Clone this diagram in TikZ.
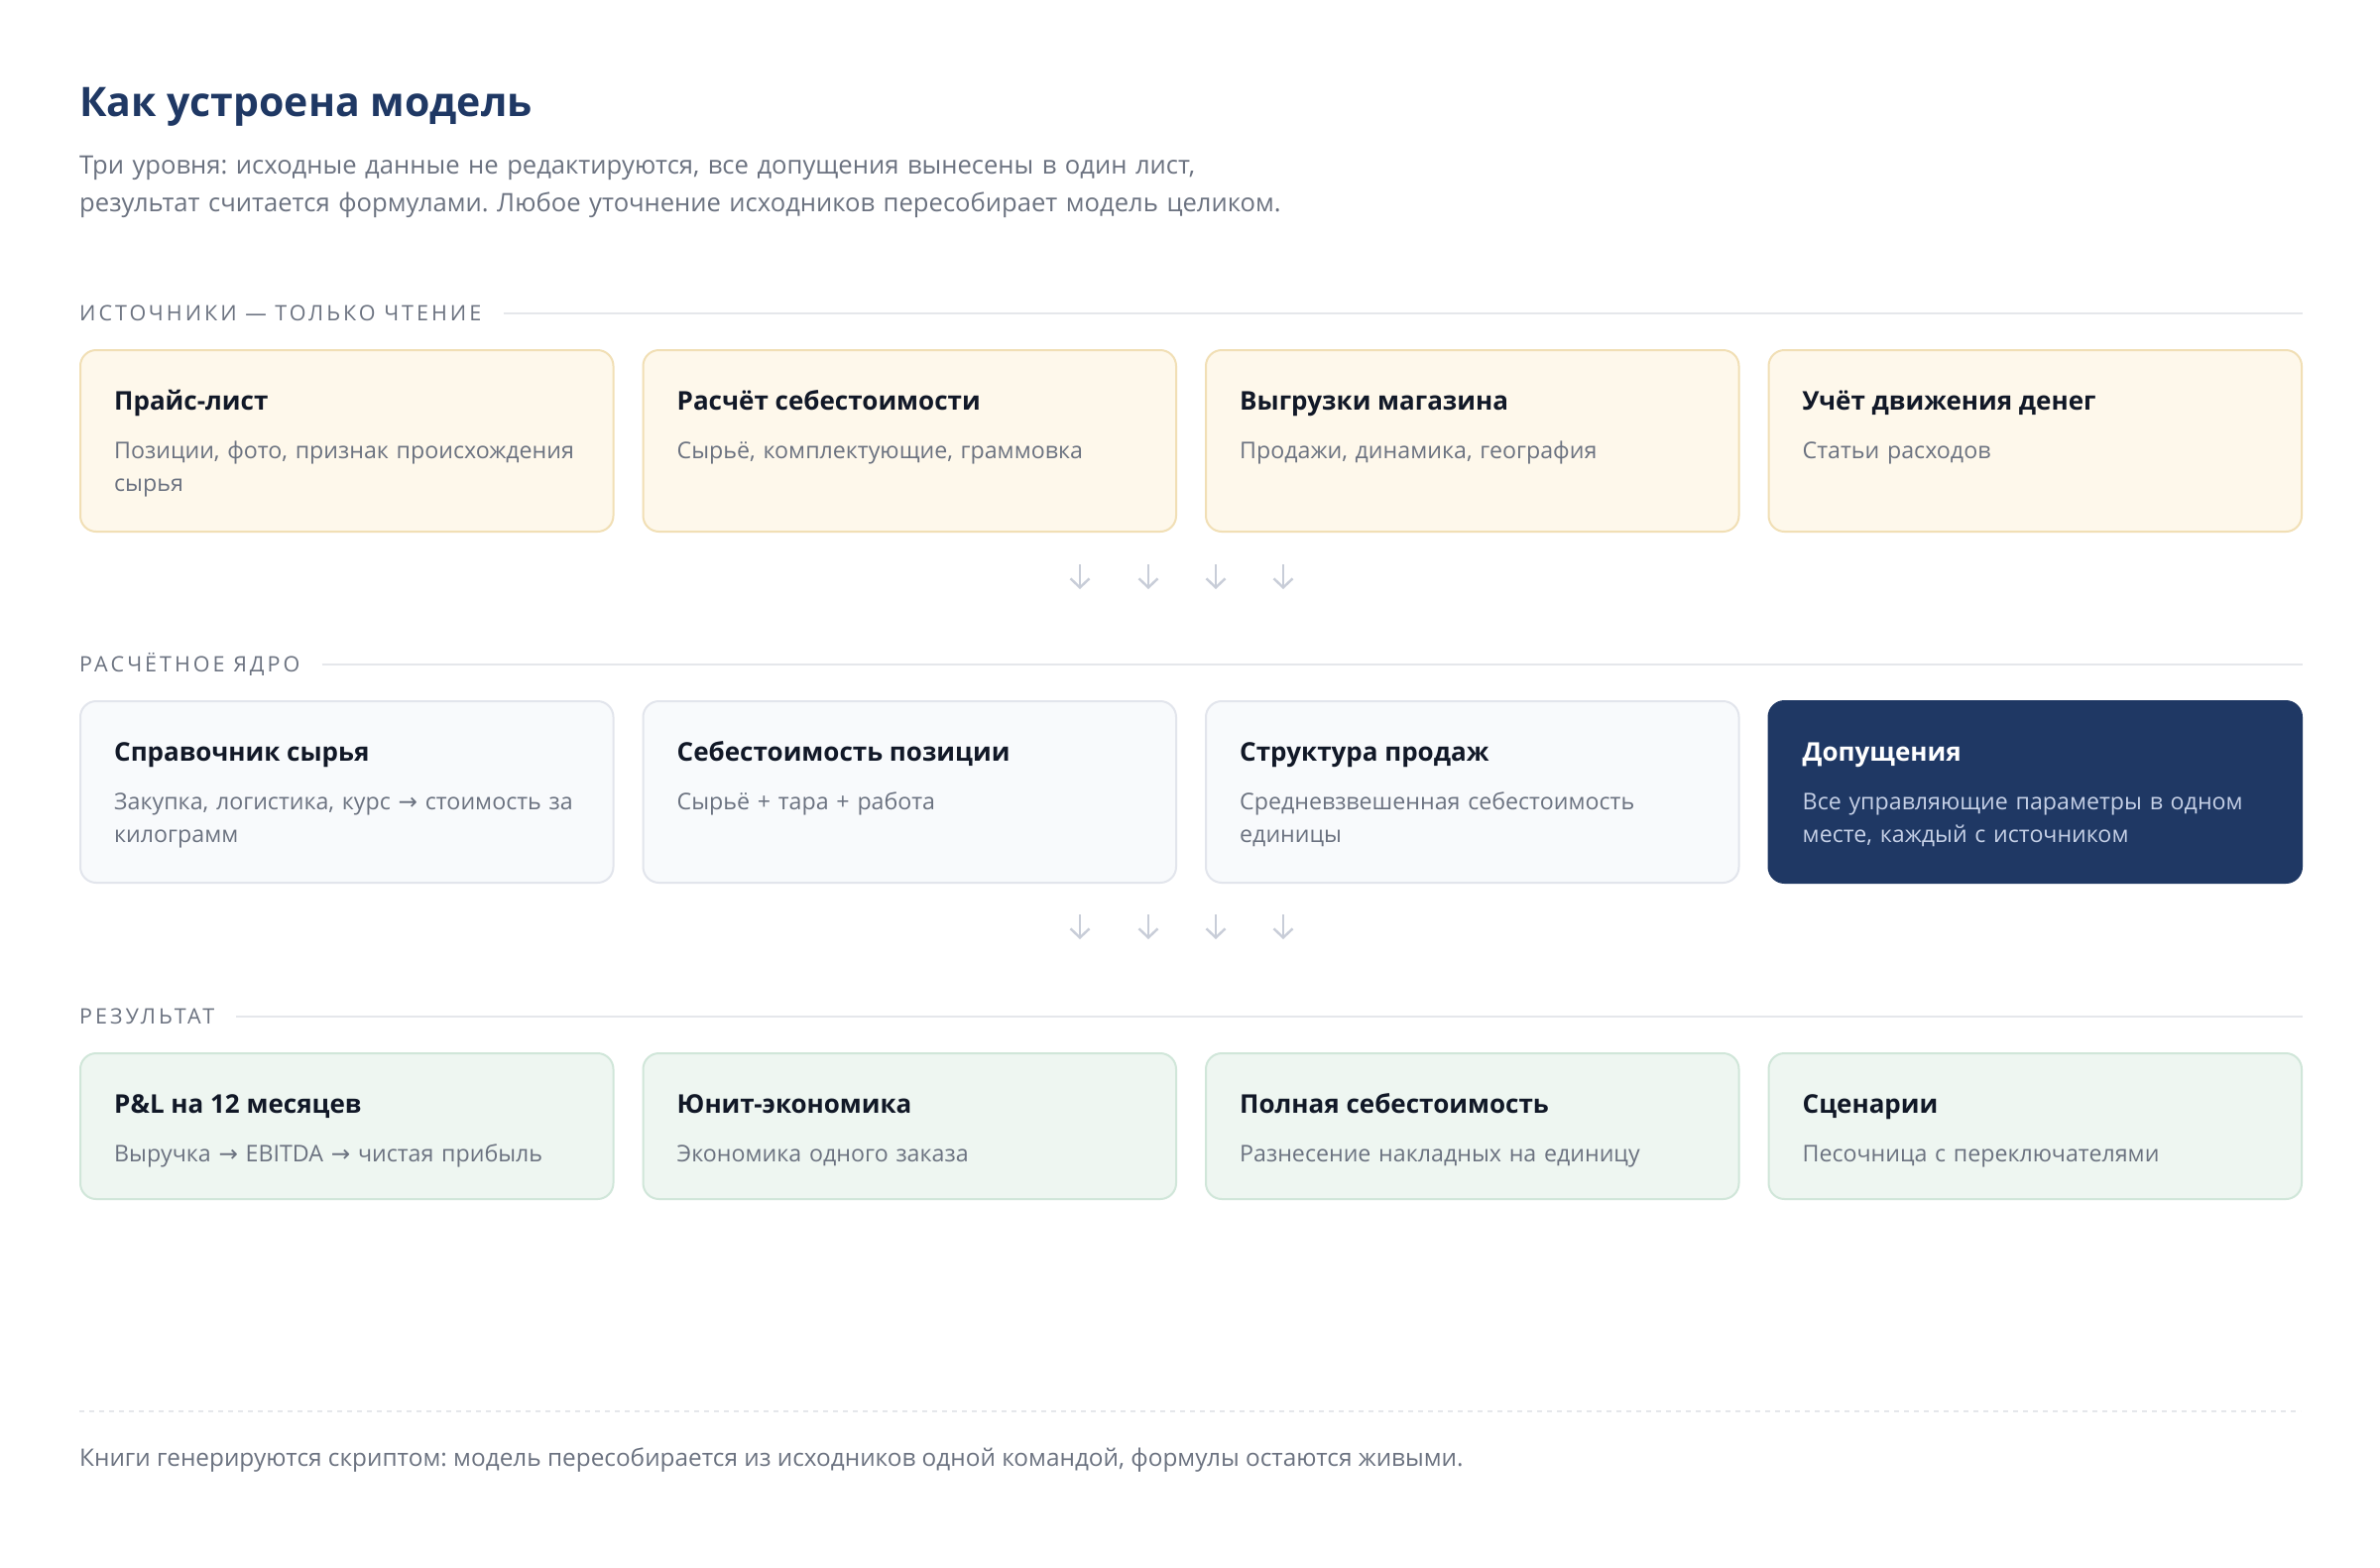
\documentclass[tikz,border=0pt]{standalone}
\usepackage{fontspec}
\setmainfont{Open Sans}
\newfontfamily\capsfont[LetterSpace=14]{Open Sans}
\newfontfamily\symfont{DejaVu Sans}
\newcommand\sarr{{\symfont →}}
\usepackage{tikz}
\usetikzlibrary{arrows.meta,positioning}
\definecolor{navy}{HTML}{1F3864}
\definecolor{ink}{HTML}{111827}
\definecolor{muted}{HTML}{6B7280}
\definecolor{rulegray}{HTML}{E5E7EB}
\definecolor{srcfill}{HTML}{FEF8EB}
\definecolor{srcline}{HTML}{F1DFB5}
\definecolor{corefill}{HTML}{F8FAFC}
\definecolor{coreline}{HTML}{E2E5EC}
\definecolor{resfill}{HTML}{EEF6F1}
\definecolor{resline}{HTML}{D0E6D9}
\definecolor{arrgray}{HTML}{C8CDD8}
\definecolor{darkdsc}{HTML}{C5D0E6}
\frenchspacing
\begin{document}
\begin{tikzpicture}[
	x=1pt,y=-1pt,
	card/.style={anchor=north west,minimum width=537.5pt,minimum height=183pt,rounded corners=16pt,line width=2pt,inner sep=0pt},
	src/.style={card,draw=srcline,fill=srcfill},
	core/.style={card,draw=coreline,fill=corefill},
	dark/.style={card,draw=navy,fill=navy},
	res/.style={card,draw=resline,fill=resfill,minimum height=147pt},
	ttl/.style={anchor=base west,inner sep=0pt,font=\bfseries\fontsize{26}{30}\selectfont,text=ink},
	dsc/.style={anchor=base west,inner sep=0pt,text width=500pt,align=left,font=\fontsize{23.2}{33}\selectfont,text=muted},
	sec/.style={anchor=west,inner sep=0pt,font=\capsfont\fontsize{21.5}{24}\selectfont,text=muted},
	rule/.style={draw=rulegray,line width=2pt},
	arr/.style={draw=arrgray,line width=2.4pt,-{Straight Barb[length=9pt,width=19pt]}},
	]
\useasboundingbox [fill=white] (0,0) rectangle (2400,1580);
\node [anchor=base west,inner sep=0pt,font=\bfseries\fontsize{41}{50}\selectfont,text=navy] (head) at (80,117) {Как устроена модель};
\node [anchor=base west,inner sep=0pt,text width=1600pt,align=left,font=\fontsize{25.6}{38}\selectfont,text=muted] (lead) at (80,175)
	{Три уровня: исходные данные не редактируются, все допущения вынесены в один лист,\\
	результат считается формулами. Любое уточнение исходников пересобирает модель целиком.};

\node [sec] (l1) at (80,316) {ИСТОЧНИКИ — ТОЛЬКО ЧТЕНИЕ};
\node [src] (s1) at (80,352) {};
\node [src] (s2) at (647.5,352) {};
\node [src] (s3) at (1215,352) {};
\node [src] (s4) at (1782.5,352) {};
\draw [rule] ([xshift=22pt]l1.east) -- (l1.east -| s4.east);
\node [ttl] (s1t) at ([xshift=35pt,yshift=-61pt]s1.north west) {Прайс-лист};
\node [dsc] (s1d) at ([xshift=35pt,yshift=-110pt]s1.north west) {Позиции, фото, признак происхождения\\сырья};
\node [ttl] (s2t) at ([xshift=35pt,yshift=-61pt]s2.north west) {Расчёт себестоимости};
\node [dsc] (s2d) at ([xshift=35pt,yshift=-110pt]s2.north west) {Сырьё, комплектующие, граммовка};
\node [ttl] (s3t) at ([xshift=35pt,yshift=-61pt]s3.north west) {Выгрузки магазина};
\node [dsc] (s3d) at ([xshift=35pt,yshift=-110pt]s3.north west) {Продажи, динамика, география};
\node [ttl] (s4t) at ([xshift=35pt,yshift=-61pt]s4.north west) {Учёт движения денег};
\node [dsc] (s4d) at ([xshift=35pt,yshift=-110pt]s4.north west) {Статьи расходов};

\foreach \x [count=\i] in {1089,1158,1226,1294} {
	\coordinate (a\i) at (\x,569);
	\coordinate (b\i) at (\x,594);
	\draw [arr] (a\i) -- (b\i);
}

\node [sec] (l2) at (80,670) {РАСЧЁТНОЕ ЯДРО};
\node [core] (c1) at (80,706) {};
\node [core] (c2) at (647.5,706) {};
\node [core] (c3) at (1215,706) {};
\node [dark] (c4) at (1782.5,706) {};
\draw [rule] ([xshift=22pt]l2.east) -- (l2.east -| c4.east);
\node [ttl] (c1t) at ([xshift=35pt,yshift=-61pt]c1.north west) {Справочник сырья};
\node [dsc] (c1d) at ([xshift=35pt,yshift=-110pt]c1.north west) {Закупка, логистика, курс \sarr{} стоимость за\\килограмм};
\node [ttl] (c2t) at ([xshift=35pt,yshift=-61pt]c2.north west) {Себестоимость позиции};
\node [dsc] (c2d) at ([xshift=35pt,yshift=-110pt]c2.north west) {Сырьё + тара + работа};
\node [ttl] (c3t) at ([xshift=35pt,yshift=-61pt]c3.north west) {Структура продаж};
\node [dsc] (c3d) at ([xshift=35pt,yshift=-110pt]c3.north west) {Средневзвешенная себестоимость\\единицы};
\node [ttl,text=white] (c4t) at ([xshift=35pt,yshift=-61pt]c4.north west) {Допущения};
\node [dsc,text=darkdsc] (c4d) at ([xshift=35pt,yshift=-110pt]c4.north west) {Все управляющие параметры в одном\\месте, каждый с источником};

\foreach \x [count=\i] in {1089,1158,1226,1294} {
	\coordinate (d\i) at (\x,922);
	\coordinate (e\i) at (\x,947);
	\draw [arr] (d\i) -- (e\i);
}

\node [sec] (l3) at (80,1025) {РЕЗУЛЬТАТ};
\node [res] (r1) at (80,1061) {};
\node [res] (r2) at (647.5,1061) {};
\node [res] (r3) at (1215,1061) {};
\node [res] (r4) at (1782.5,1061) {};
\draw [rule] ([xshift=22pt]l3.east) -- (l3.east -| r4.east);
\node [ttl] (r1t) at ([xshift=35pt,yshift=-61pt]r1.north west) {P\&L на 12 месяцев};
\node [dsc] (r1d) at ([xshift=35pt,yshift=-110pt]r1.north west) {Выручка \sarr{} EBITDA \sarr{} чистая прибыль};
\node [ttl] (r2t) at ([xshift=35pt,yshift=-61pt]r2.north west) {Юнит-экономика};
\node [dsc] (r2d) at ([xshift=35pt,yshift=-110pt]r2.north west) {Экономика одного заказа};
\node [ttl] (r3t) at ([xshift=35pt,yshift=-61pt]r3.north west) {Полная себестоимость};
\node [dsc] (r3d) at ([xshift=35pt,yshift=-110pt]r3.north west) {Разнесение накладных на единицу};
\node [ttl] (r4t) at ([xshift=35pt,yshift=-61pt]r4.north west) {Сценарии};
\node [dsc] (r4d) at ([xshift=35pt,yshift=-110pt]r4.north west) {Песочница с переключателями};

\coordinate (f1) at (80,1423);
\coordinate (f2) at (2320,1423);
\draw [rule,dash pattern=on 5pt off 5pt] (f1) -- (f2);
\node [anchor=base west,inner sep=0pt,font=\fontsize{24.35}{30}\selectfont,text=muted] (foot) at (80,1478)
	{Книги генерируются скриптом: модель пересобирается из исходников одной командой, формулы остаются живыми.};
\end{tikzpicture}
\end{document}
